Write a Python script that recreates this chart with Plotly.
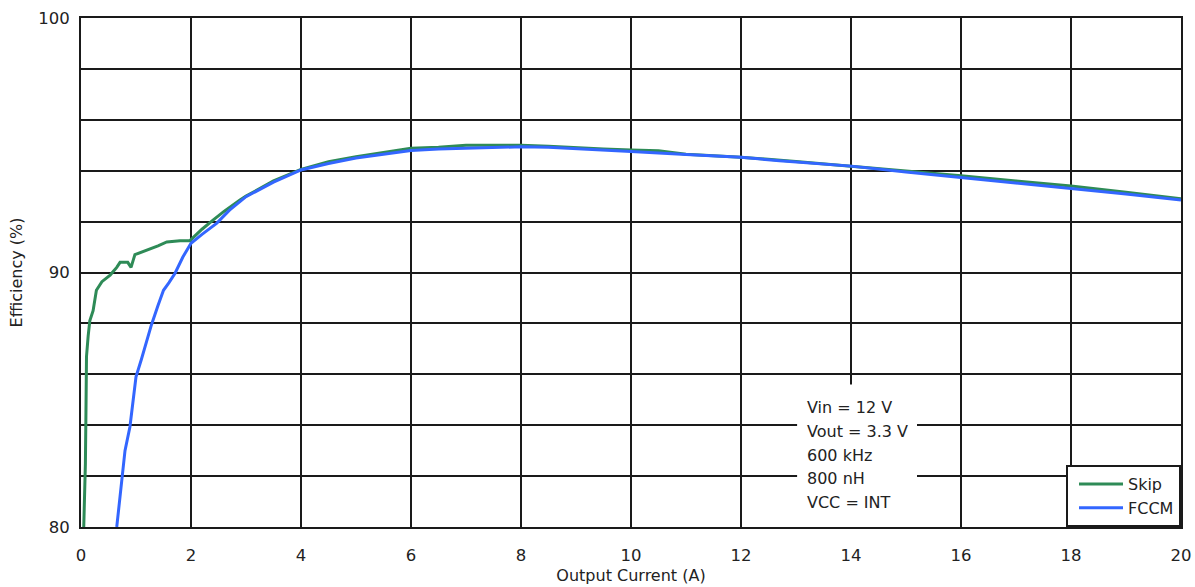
import plotly.graph_objects as go

# Efficiency vs output current, Vin = 12 V, Vout = 3.3 V
skip_current = [0.05, 0.06, 0.08, 0.09, 0.09, 0.10, 0.13, 0.16, 0.22, 0.28, 0.38, 0.53, 0.65,
                0.71, 0.85, 0.91, 0.98, 1.1, 1.25, 1.4, 1.56, 1.8, 1.98, 2.2, 2.4, 2.6, 2.89,
                3.0, 3.5, 4.0, 4.5, 5.0, 5.5, 6.0, 6.5, 7.0, 7.5, 8.0, 8.5, 9.0, 9.5, 10.0,
                10.5, 11.0, 12.0, 13.0, 14.0, 15.0, 16.0, 17.0, 18.0, 19.0, 20.0]
skip_eff = [80.0, 80.8, 82.5, 84.5, 85.8, 86.7, 87.5, 88.1, 88.5, 89.3, 89.64, 89.9, 90.2,
            90.4, 90.4, 90.2, 90.7, 90.8, 90.9, 91.05, 91.2, 91.25, 91.25, 91.7, 92.06, 92.4,
            92.85, 93.0, 93.6, 94.05, 94.35, 94.55, 94.72, 94.88, 94.92, 95.0, 95.0, 95.0,
            94.96, 94.9, 94.85, 94.81, 94.78, 94.65, 94.53, 94.36, 94.18, 93.98, 93.8, 93.6,
            93.4, 93.15, 92.9]

fccm_current = [0.65, 0.7, 0.74, 0.8, 0.89, 0.95, 1.0, 1.1, 1.2, 1.28, 1.4, 1.5, 1.6, 1.71,
                1.85, 2.0, 2.2, 2.47, 2.7, 3.0, 3.5, 4.0, 4.5, 5.0, 5.5, 6.0, 6.5, 7.0, 7.5,
                8.0, 8.5, 9.0, 9.5, 10.0, 11.0, 12.0, 12.7, 13.0, 14.0, 15.0, 16.0, 17.0,
                18.0, 19.0, 20.0]
fccm_eff = [80.0, 81.0, 81.98, 83.0, 83.94, 84.9, 85.9, 86.6, 87.4, 87.94, 88.7, 89.3, 89.6,
            89.97, 90.6, 91.15, 91.5, 91.94, 92.45, 92.98, 93.55, 94.03, 94.28, 94.5, 94.65,
            94.79, 94.85, 94.88, 94.92, 94.94, 94.92, 94.87, 94.8, 94.75, 94.64, 94.53,
            94.39, 94.34, 94.18, 93.95, 93.74, 93.52, 93.31, 93.08, 92.85]

conditions = ["Vin = 12 V", "Vout = 3.3 V", "600 kHz", "800 nH", "VCC = INT"]

FONT = "DejaVu Sans"
TXT = "#222222"
GRID = "#1a1a1a"

fig = go.Figure()
fig.add_trace(go.Scatter(x=skip_current, y=skip_eff, mode="lines", name="Skip",
                         legendgroup="skip",
                         line=dict(color="#2e8b57", width=3)))
fig.add_trace(go.Scatter(x=fccm_current, y=fccm_eff, mode="lines", name="FCCM",
                         legendgroup="fccm",
                         line=dict(color="#3366ff", width=3)))

# white panel behind the operating-condition text
fig.add_shape(type="rect", xref="x", yref="y", x0=13.02, x1=15.2, y0=80.0, y1=85.6,
              fillcolor="white", line=dict(width=0), layer="above")

line_step = 0.93
for i, txt in enumerate(conditions):
    fig.add_annotation(x=13.16, y=84.68 - i * line_step, xref="x", yref="y", text=txt,
                       showarrow=False, xanchor="left", yanchor="middle",
                       font=dict(family=FONT, size=16, color=TXT))

fig.update_layout(
    width=1195, height=587,
    margin=dict(l=81, r=14, t=18, b=60),
    paper_bgcolor="white", plot_bgcolor="white",
    font=dict(family=FONT, size=16.5, color=TXT),
    legend=dict(x=1, y=0, xanchor="right", yanchor="bottom",
                bgcolor="white", bordercolor=GRID, borderwidth=2,
                font=dict(family=FONT, size=16, color=TXT),
                itemwidth=44, tracegroupgap=3, indentation=6,
                traceorder="normal"),
    showlegend=True,
)

fig.update_xaxes(
    range=[0, 20], dtick=2, tick0=0, automargin=False,
    showgrid=True, gridcolor=GRID, gridwidth=2,
    showline=True, linecolor=GRID, linewidth=2, mirror=True,
    zeroline=False, ticks="", ticklabelstandoff=12,
    title=dict(text="Output Current (A)", standoff=6,
               font=dict(family=FONT, size=16, color=TXT)),
)
fig.update_yaxes(
    range=[80, 100], dtick=10, tick0=80, automargin=False,
    showgrid=True, gridcolor=GRID, gridwidth=2,
    minor=dict(dtick=2, showgrid=True, gridcolor=GRID, gridwidth=2),
    showline=True, linecolor=GRID, linewidth=2, mirror=True,
    zeroline=False, ticks="", ticklabelstandoff=6,
    title=dict(text="Efficiency (%)", standoff=12,
               font=dict(family=FONT, size=16, color=TXT)),
)

fig.write_html("out.html")
